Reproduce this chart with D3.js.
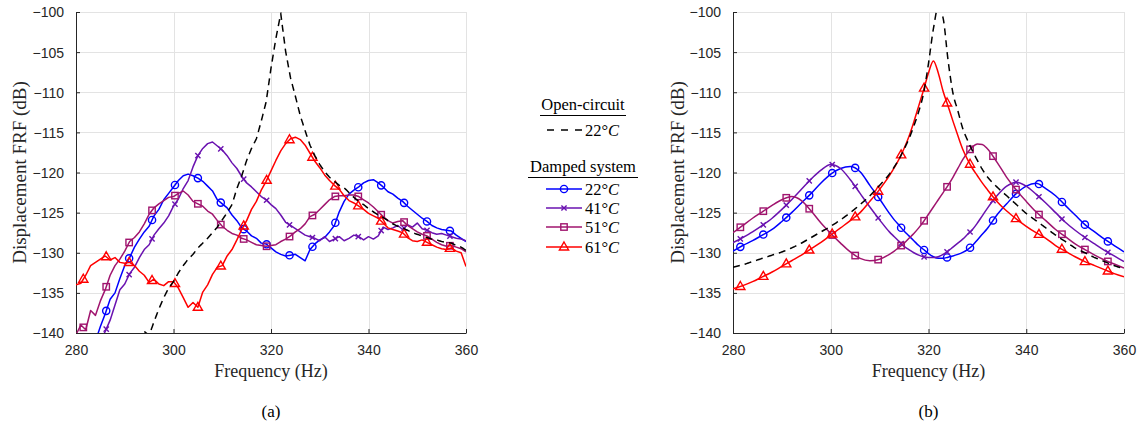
<!DOCTYPE html>
<html><head><meta charset="utf-8">
<script src="https://cdn.jsdelivr.net/npm/d3@7"></script>
<style>body{margin:0;background:#fff;} svg{display:block;}</style>
</head><body>
<svg id="c" width="1144" height="432"></svg>
<script>
// ---------- DATA ----------
// (a) measured FRFs, 1 Hz grid 280..360 Hz
const freqMeasured = d3.range(280, 361);
const measOpen22 = [
 -152,-151,-150,-149,-148,-147,-146,-145,-144.5,-143.5,
 -142.8,-142,-141.2,-140.4,-139.8,-140.3,-138.6,-137.0,-135.6,-134.4,
 -133.6,-132.5,-131.6,-130.8,-130.2,-129.4,-128.8,-128.2,-127.5,-126.8,
 -125.9,-125.0,-124.0,-122.0,-120.4,-118.5,-117.0,-115.8,-113.6,-111.2,
 -107.0,-103.3,-100.2,-104.9,-108.2,-110.5,-112.9,-114.8,-116.6,-117.9,
 -119.0,-119.9,-120.6,-121.1,-121.6,-121.9,-122.5,-123.1,-123.6,-124.0,
 -124.5,-124.9,-125.3,-125.6,-126.0,-126.4,-126.7,-126.9,-127.2,-127.5,
 -127.7,-127.9,-128.1,-128.3,-128.4,-128.6,-128.7,-128.8,-129.1,-129.3,
 -129.7];
const measDamped22 = [
 -146,-145,-144.5,-143,-141,-139.2,-137.6,-135.8,-135.0,-133.2,
 -131.6,-130.6,-129.3,-128.3,-127.4,-126.7,-125.4,-124.6,-123.4,-122.6,
 -121.8,-121.0,-120.4,-120.2,-120.4,-120.7,-121.1,-121.7,-122.3,-123.4,
 -123.9,-124.4,-125.3,-126.0,-126.9,-127.3,-127.9,-128.2,-128.8,-128.9,
 -129.4,-129.9,-130.2,-130.4,-130.3,-130.2,-130.6,-131.0,-129.6,-128.9,
 -128.4,-128.1,-127.4,-126.6,-124.9,-123.6,-122.7,-122.2,-121.8,-121.3,
 -121.0,-120.9,-121.3,-121.8,-122.4,-122.7,-123.2,-123.6,-124.2,-124.7,
 -125.2,-125.7,-126.1,-126.6,-126.9,-127.1,-127.2,-127.3,-127.8,-128.2,
 -128.6];
const measDamped41 = [
 -147,-146,-145,-144,-143,-141,-139.8,-138.4,-136.5,-134.6,
 -133.9,-132.6,-131.8,-130.6,-129.6,-129.0,-127.8,-127.0,-126.3,-125.4,
 -124.2,-123.3,-122.0,-121.0,-119.3,-117.9,-117.0,-116.4,-116.2,-116.7,
 -117.2,-117.9,-118.8,-119.5,-120.5,-121.3,-121.8,-122.4,-123.0,-123.4,
 -124.0,-124.5,-125.3,-126.2,-126.6,-127.0,-127.4,-127.8,-128.0,-128.2,
 -128.5,-128.0,-128.6,-128.3,-128.0,-128.5,-128.2,-127.8,-128.0,-128.4,
 -128.0,-128.3,-127.9,-126.8,-127.1,-126.9,-126.6,-127.1,-126.5,-126.8,
 -126.3,-127.0,-127.2,-127.5,-127.7,-127.6,-127.8,-128.0,-128.2,-128.3,
 -128.5];
const measDamped51 = [
 -140.2,-139.0,-139.6,-137.2,-137.8,-136.0,-134.6,-132.8,-131.6,-130.8,
 -129.8,-128.6,-128.1,-127.4,-126.4,-125.2,-124.4,-123.9,-123.5,-123.1,
 -123.0,-122.6,-122.3,-122.8,-123.6,-123.9,-124.2,-124.8,-125.2,-126.0,
 -126.7,-127.2,-127.6,-127.8,-128.2,-128.4,-128.7,-129.0,-129.1,-129.2,
 -129.1,-129.0,-128.6,-128.3,-127.9,-127.4,-127.0,-126.4,-125.5,-125.2,
 -124.6,-124.0,-123.4,-123.0,-122.9,-122.9,-122.8,-122.8,-123.0,-123.4,
 -123.8,-124.3,-124.9,-125.5,-126.0,-126.3,-126.1,-126.0,-126.6,-127.0,
 -127.4,-127.7,-127.9,-128.3,-128.7,-129.0,-129.2,-129.1,-129.3,-129.5,
 -129.9];
const measDamped61 = [
 -134.0,-133.8,-132.8,-131.6,-131.2,-130.8,-130.4,-130.9,-130.6,-131.2,
 -131.3,-131.2,-131.6,-132.3,-132.8,-133.7,-133.3,-133.9,-134.1,-133.6,
 -133.6,-134.4,-135.6,-136.8,-136.2,-136.8,-134.9,-134.0,-132.7,-131.8,
 -131.6,-130.4,-129.6,-128.4,-127.1,-126.0,-124.6,-123.6,-122.2,-121.1,
 -119.8,-118.5,-117.3,-116.4,-115.8,-115.6,-115.9,-116.6,-117.6,-118.6,
 -119.4,-120.3,-121.0,-121.6,-122.1,-122.9,-123.5,-123.8,-124.2,-124.6,
 -125.1,-125.4,-125.7,-126.3,-126.9,-127.1,-127.3,-127.5,-128.1,-128.5,
 -128.6,-128.4,-128.7,-129.0,-129.3,-129.5,-129.6,-129.4,-129.8,-130.0,
 -131.7];

// (b) model FRFs
const freqModel = [280,282,284,286,288,290,292,294,296,298,300,302,304,306,308,310,312,
 313,314,315,316,317,318,319,320,321,322,323,324,325,326,327,328,329,330,331,
 332,334,336,338,340,342,344,346,348,350,352,354,356,358,360];
const modelOpen22 = [-131.8,-131.5,-131.1,-130.7,-130.3,-129.9,-129.4,-128.8,-128.1,-127.4,-126.7,-125.9,-125.0,-124.0,-122.9,-121.6,-120.2,
 -119.3,-118.3,-117.1,-115.8,-114.2,-112.4,-110.1,-106.4,-102.1,-99.4,-100.8,-106.0,-110.1,-112.3,-114.5,-116.0,-117.3,-118.5,-119.6,
 -120.5,-121.8,-122.9,-124.0,-125.1,-126.0,-126.9,-127.8,-128.6,-129.4,-130.0,-130.6,-131.1,-131.6,-132.0];
const modelDamped22 = [-129.8,-129.1,-128.5,-127.8,-127.1,-126.1,-125.0,-123.8,-122.6,-121.3,-120.2,-119.5,-119.25,-119.9,-121.6,-123.3,-125.1,
 -125.9,-126.6,-127.3,-127.9,-128.5,-129.1,-129.6,-130.1,-130.5,-130.7,-130.7,-130.55,-130.4,-130.2,-129.95,-129.6,-129.1,-128.4,-127.7,
 -127.0,-125.3,-123.9,-122.6,-121.7,-121.35,-122.0,-122.9,-124.1,-125.3,-126.5,-127.4,-128.3,-129.1,-129.9];
const modelDamped41 = [-128.75,-128.1,-127.4,-126.6,-125.7,-124.6,-123.4,-122.1,-120.8,-119.7,-119.0,-119.5,-120.9,-122.6,-124.3,-125.9,-127.4,
 -128.0,-128.6,-129.2,-129.6,-130.0,-130.3,-130.5,-130.6,-130.6,-130.5,-130.2,-129.8,-129.3,-128.8,-128.3,-127.7,-127.1,-126.3,-125.4,
 -124.5,-122.9,-121.7,-121.2,-121.7,-122.7,-123.8,-125.0,-126.2,-127.2,-128.1,-128.9,-129.7,-130.4,-131.1];
const modelDamped51 = [-127.5,-126.6,-125.7,-124.9,-124.1,-123.4,-123.0,-123.5,-124.8,-126.3,-127.6,-128.8,-129.9,-130.7,-131.0,-130.8,-130.2,
 -129.8,-129.3,-128.8,-128.2,-127.6,-126.9,-126.1,-125.2,-124.3,-123.4,-122.5,-121.6,-120.6,-119.5,-118.4,-117.5,-116.8,-116.45,-116.5,
 -117.0,-118.7,-120.6,-122.2,-123.6,-124.9,-126.0,-127.1,-128.0,-128.9,-129.6,-130.3,-130.9,-131.4,-131.9];
const modelDamped61 = [-134.5,-134.1,-133.6,-133.0,-132.4,-131.7,-131.0,-130.3,-129.5,-128.7,-127.8,-126.9,-126.0,-125.0,-123.6,-122.1,-120.4,
 -119.4,-118.3,-117.0,-115.5,-113.7,-111.7,-109.7,-107.6,-106.1,-107.6,-109.9,-111.7,-113.6,-115.4,-117.1,-118.4,-119.5,-120.4,-121.3,
 -122.1,-123.6,-124.8,-125.8,-126.7,-127.5,-128.2,-129.1,-129.8,-130.5,-131.1,-131.6,-132.1,-132.6,-133.0];

const markerFreqs = [281.5,286.2,290.9,295.6,300.3,305.0,309.7,314.4,319.1,323.8,328.5,333.2,337.9,342.6,347.3,352.0,356.7];
const xTicks = [280,300,320,340,360];
const yTicks = [-140,-135,-130,-125,-120,-115,-110,-105,-100];
const tempLabels = ["22","41","51","61"];

// ---------- STYLE ----------
const C = {blue:"#0000ff", purple:"#6a12b0", maroon:"#a0146e", red:"#ff0000", black:"#000000"};
const damped = [
  {col:C.blue, mk:"circle"}, {col:C.purple, mk:"x"}, {col:C.maroon, mk:"square"}, {col:C.red, mk:"triangle"}];
const svg = d3.select("#c");
const yTop = 12, yBot = 333;
const AX = "#262626", GRID = "#e3e3e3";
const SERIF = "'Liberation Serif','Times New Roman',serif";
const SANS = "'Liberation Sans',Arial,Helvetica,sans-serif";

function drawMarker(g, type, x, y, col) {
  let m;
  if (type === "circle") m = g.append("circle").attr("cx", x).attr("cy", y).attr("r", 3.6);
  else if (type === "square") m = g.append("rect").attr("x", x-3.2).attr("y", y-3.2).attr("width", 6.4).attr("height", 6.4);
  else if (type === "triangle") m = g.append("path").attr("d", `M${x},${y-5}L${x+4.6},${y+3}L${x-4.6},${y+3}Z`);
  else m = g.append("path").attr("d", `M${x-2.6},${y-2.6}L${x+2.6},${y+2.6}M${x-2.6},${y+2.6}L${x+2.6},${y-2.6}`);
  m.attr("fill", "none").attr("stroke", col).attr("stroke-width", 1.4);
}

function yOnPath(node, x) {
  const L = node.getTotalLength();
  let lo = 0, hi = L;
  for (let i = 0; i < 40; i++) {
    const mid = (lo + hi) / 2;
    if (node.getPointAtLength(mid).x < x) lo = mid; else hi = mid;
  }
  return node.getPointAtLength((lo + hi) / 2).y;
}

// split a rendered path into explicit dash sub-paths
function dashedD(node, dash, gap) {
  const L = node.getTotalLength();
  let d = "";
  for (let s = 0; s < L; s += dash + gap) {
    const e = Math.min(s + dash, L);
    let pt = node.getPointAtLength(s);
    d += `M${pt.x.toFixed(2)},${pt.y.toFixed(2)}`;
    for (let t = s + 1; t < e; t += 1) {
      pt = node.getPointAtLength(t);
      d += `L${pt.x.toFixed(2)},${pt.y.toFixed(2)}`;
    }
    pt = node.getPointAtLength(e);
    d += `L${pt.x.toFixed(2)},${pt.y.toFixed(2)}`;
  }
  return d;
}

const panels = [
  {id:"a", x0:76, x1:466, freqs:freqMeasured, open:measOpen22,
   damp:[measDamped22, measDamped41, measDamped51, measDamped61], curve:d3.curveLinear, ylabX:19},
  {id:"b", x0:733, x1:1124, freqs:freqModel, open:modelOpen22,
   damp:[modelDamped22, modelDamped41, modelDamped51, modelDamped61], curve:d3.curveMonotoneX, ylabX:677}
];

const defs = svg.append("defs");
panels.forEach(p => {
  const x = d3.scaleLinear().domain([280, 360]).range([p.x0, p.x1]);
  const y = d3.scaleLinear().domain([-140, -100]).range([yBot, yTop]);
  const g = svg.append("g");
  // grid
  g.selectAll(".vg").data(xTicks).join("line")
    .attr("x1", d => Math.round(x(d)) + 0.5).attr("x2", d => Math.round(x(d)) + 0.5)
    .attr("y1", yTop).attr("y2", yBot).attr("stroke", GRID).attr("stroke-width", 1);
  g.selectAll(".hg").data(yTicks).join("line")
    .attr("y1", d => Math.round(y(d)) + 0.5).attr("y2", d => Math.round(y(d)) + 0.5)
    .attr("x1", p.x0).attr("x2", p.x1).attr("stroke", GRID).attr("stroke-width", 1);
  // axes via d3 axis
  const xa = g.append("g").attr("transform", `translate(0,${yBot})`)
    .call(d3.axisBottom(x).tickValues(xTicks).tickSizeInner(-4).tickSizeOuter(0).tickPadding(11).tickFormat(d3.format("d")));
  const ya = g.append("g").attr("transform", `translate(${p.x0},0)`)
    .call(d3.axisLeft(y).tickValues(yTicks).tickSizeInner(-4).tickSizeOuter(0).tickPadding(12).tickFormat(d3.format("d")));
  [xa, ya].forEach(a => {
    a.select(".domain").attr("stroke", AX).attr("stroke-width", 1);
    a.selectAll(".tick line").attr("stroke", AX);
    a.selectAll(".tick text").attr("fill", AX).style("font-family", SANS).style("font-size", "14px");
  });
  xa.selectAll(".tick text").attr("dy", "0.8em");
  ya.selectAll(".tick text").attr("dy", "0.35em");
  // clip
  defs.append("clipPath").attr("id", "clip" + p.id).append("rect")
    .attr("x", p.x0).attr("y", yTop).attr("width", p.x1 - p.x0).attr("height", yBot - yTop);
  const plot = g.append("g").attr("clip-path", `url(#clip${p.id})`);
  const line = d3.line().x((d, i) => x(p.freqs[i])).y(d => y(d)).curve(p.curve);
  p.damp.forEach((vals, k) => {
    const st = damped[k];
    const path = plot.append("path").attr("d", line(vals)).attr("fill", "none")
      .attr("stroke", st.col).attr("stroke-width", 1.5).attr("stroke-linejoin", "round");
    const node = path.node();
    markerFreqs.forEach(f => {
      const px = x(f), py = yOnPath(node, px);
      if (py <= yBot + 1) drawMarker(plot, st.mk, px, py, st.col);
    });
  });
  // open-circuit: dashed black
  const guide = plot.append("path").attr("d", line(p.open)).attr("fill", "none").attr("stroke", "none");
  plot.append("path").attr("d", dashedD(guide.node(), 7, 5)).attr("fill", "none")
    .attr("stroke", C.black).attr("stroke-width", 1.5).attr("stroke-linecap", "butt");
  guide.remove();
  // labels
  svg.append("text").attr("x", (p.x0 + p.x1) / 2).attr("y", 377).attr("text-anchor", "middle")
    .style("font-family", SERIF).style("font-size", "18px").attr("fill", AX).text("Frequency (Hz)");
  svg.append("text").attr("transform", `translate(${p.ylabX},${(yTop + yBot) / 2}) rotate(-90)`)
    .attr("text-anchor", "middle").attr("dy", "0.35em")
    .style("font-family", SERIF).style("font-size", "19px").attr("fill", AX).text("Displacement FRF (dB)");
  svg.append("text").attr("x", (p.x0 + p.x1) / 2).attr("y", 417).attr("text-anchor", "middle")
    .style("font-family", SERIF).style("font-size", "17px").attr("fill", "#000").text("(" + p.id + ")");
});

// ---------- LEGEND ----------
const lg = svg.append("g").style("font-family", SERIF).style("font-size", "16.5px");
function tempText(gx, x, yb, t) {
  const tx = gx.append("text").attr("x", x).attr("y", yb);
  tx.append("tspan").text(t + "°");
  tx.append("tspan").style("font-style", "italic").text("C");
}
lg.append("text").attr("x", 583).attr("y", 110).attr("text-anchor", "middle").text("Open-circuit");
lg.append("line").attr("x1", 540).attr("x2", 626).attr("y1", 115.5).attr("y2", 115.5).attr("stroke", "#000").attr("stroke-width", 1);
lg.append("line").attr("x1", 547).attr("x2", 582).attr("y1", 130).attr("y2", 130)
  .attr("stroke", "#000").attr("stroke-width", 1.5).style("stroke-dasharray", "7 7");
tempText(lg, 585, 135.5, tempLabels[0]);
lg.append("text").attr("x", 583).attr("y", 172).attr("text-anchor", "middle").text("Damped system");
lg.append("line").attr("x1", 528).attr("x2", 638).attr("y1", 177.5).attr("y2", 177.5).attr("stroke", "#000").attr("stroke-width", 1);
const ey = [189, 208, 227, 247];
damped.forEach((st, k) => {
  lg.append("line").attr("x1", 546).attr("x2", 582).attr("y1", ey[k]).attr("y2", ey[k])
    .attr("stroke", st.col).attr("stroke-width", 1.5);
  drawMarker(lg, st.mk, 564, ey[k], st.col);
  tempText(lg, 585, ey[k] + 5.5, tempLabels[k]);
});
</script>
</body></html>
